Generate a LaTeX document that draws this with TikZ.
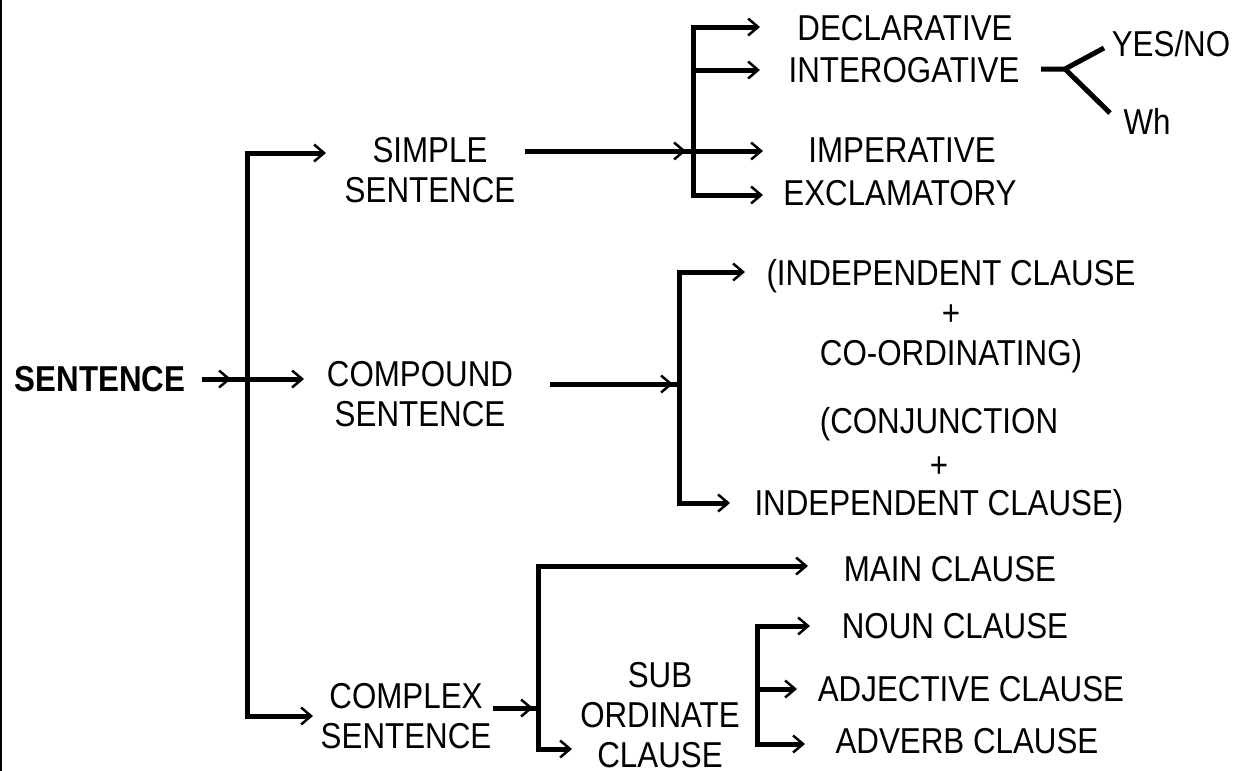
\documentclass[tikz,border=0pt]{standalone}
\usepackage{fontspec}
\setmainfont{Liberation Sans}[FakeStretch=0.87]
\usetikzlibrary{arrows.meta}

\begin{document}
\begin{tikzpicture}[x=1pt, y=-1pt,
		lbl/.style={inner sep=0pt, align=center, text depth=0pt, font=\fontsize{36}{40}\selectfont},
		link/.style={line width=5pt, line cap=rect},
		arr/.style={line width=5pt, -{Straight Barb[length=10pt, width=17pt, line width=2.5pt]}}]
			%%%%% START %%%%%
			
			\useasboundingbox (0,0) rectangle (1240,771);
			\coordinate (lt) at (1,0);
			\coordinate (lb) at (1,771);
			\draw[line width=1.5pt] (lt) -- (lb);
			
			\node[lbl, font=\fontsize{36}{40}\selectfont\bfseries] (sent) at (100,379) {SENTENCE};
			\node[lbl] (simple) at (430,170) {SIMPLE\\SENTENCE};
			\node[lbl] (compound) at (420,394) {COMPOUND\\SENTENCE};
			\node[lbl] (complex) at (406,716) {COMPLEX\\SENTENCE};
			
			\node[lbl] (decl) at (905,28) {DECLARATIVE};
			\node[lbl] (inter) at (904,70) {INTEROGATIVE};
			\node[lbl] (imper) at (902,150) {IMPERATIVE};
			\node[lbl] (excl) at (900,193) {EXCLAMATORY};
			\node[lbl] (yesno) at (1171,43) {YES/NO};
			\node[lbl] (wh) at (1147,121) {Wh};
			
			\node[lbl] (coord) at (951,312) {(INDEPENDENT CLAUSE\\+\\CO-ORDINATING)};
			\node[lbl] (conj) at (939,461) {(CONJUNCTION\\[4pt]+\\[-2pt]INDEPENDENT CLAUSE)};
			
			\node[lbl] (main) at (950,569) {MAIN CLAUSE};
			\node[lbl] (sub) at (660,715) {SUB\\ORDINATE\\CLAUSE};
			\node[lbl] (noun) at (955,626) {NOUN CLAUSE};
			\node[lbl] (adj) at (971,689) {ADJECTIVE CLAUSE};
			\node[lbl] (adv) at (967,741) {ADVERB CLAUSE};
			
			% sentence -> three kinds
			\coordinate (s0) at (202,379);
			\coordinate (s1) at (231,379);
			\coordinate (tr) at (247,153);
			\coordinate (tb) at (247,716);
			\coordinate (simplein) at (326,153);
			\coordinate (compoundin) at (304,379);
			\coordinate (complexin) at (313,716);
			\draw[link] (tr) -- (tb);
			\draw[arr] (s0) -- (s1);
			\draw[arr] (s0) -- (compoundin);
			\draw[arr] (tr) -- (simplein);
			\draw[arr] (tb) -- (complexin);
			
			% simple sentence
			\coordinate (p0) at (525,151);
			\coordinate (p1) at (686,151);
			\coordinate (p2) at (693,151);
			\coordinate (vt) at (693,27);
			\coordinate (vi) at (693,70);
			\coordinate (vb) at (693,195);
			\coordinate (declin) at (760,27);
			\coordinate (interin) at (760,70);
			\coordinate (imperin) at (763,151);
			\coordinate (exclin) at (763,195);
			\draw[link] (vt) -- (vb);
			\draw[line width=5pt] (p0) -- (p2);
			\draw[arr] (p0) -- (p1);
			\draw[arr] (vt) -- (declin);
			\draw[arr] (vi) -- (interin);
			\draw[arr] (p2) -- (imperin);
			\draw[arr] (vb) -- (exclin);
			
			\coordinate (q0) at (1041,69);
			\coordinate (q1) at (1065,69);
			\coordinate (q2) at (1104,48);
			\coordinate (q3) at (1110,113);
			\draw[line width=5pt] (q0) -- (q1) -- (q2);
			\draw[line width=5pt] (q1) -- (q3);
			
			% compound sentence
			\coordinate (c0) at (550,384);
			\coordinate (c1) at (673,384);
			\coordinate (c2) at (679,384);
			\coordinate (cu) at (679,272);
			\coordinate (cd) at (679,503);
			\coordinate (coordin) at (745,272);
			\coordinate (conjin) at (730,503);
			\draw[link] (cu) -- (cd);
			\draw[line width=5pt] (c0) -- (c2);
			\draw[arr] (c0) -- (c1);
			\draw[arr] (cu) -- (coordin);
			\draw[arr] (cd) -- (conjin);
			
			% complex sentence
			\coordinate (x0) at (493,708);
			\coordinate (x1) at (533,708);
			\coordinate (x2) at (538,708);
			\coordinate (xu) at (538,566);
			\coordinate (xd) at (538,749);
			\coordinate (mainin) at (808,566);
			\coordinate (subin) at (572,749);
			\draw[link] (xu) -- (xd);
			\draw[line width=5pt] (x0) -- (x2);
			\draw[arr] (x0) -- (x1);
			\draw[arr] (xu) -- (mainin);
			\draw[arr] (xd) -- (subin);
			
			\coordinate (bu) at (757,626);
			\coordinate (bm) at (757,689);
			\coordinate (bd) at (757,744);
			\coordinate (nounin) at (810,626);
			\coordinate (adjin) at (797,689);
			\coordinate (advin) at (805,744);
			\draw[link] (bu) -- (bd);
			\draw[arr] (bu) -- (nounin);
			\draw[arr] (bm) -- (adjin);
			\draw[arr] (bd) -- (advin);
			
			%%%%% END %%%%%
\end{tikzpicture}
\end{document}
